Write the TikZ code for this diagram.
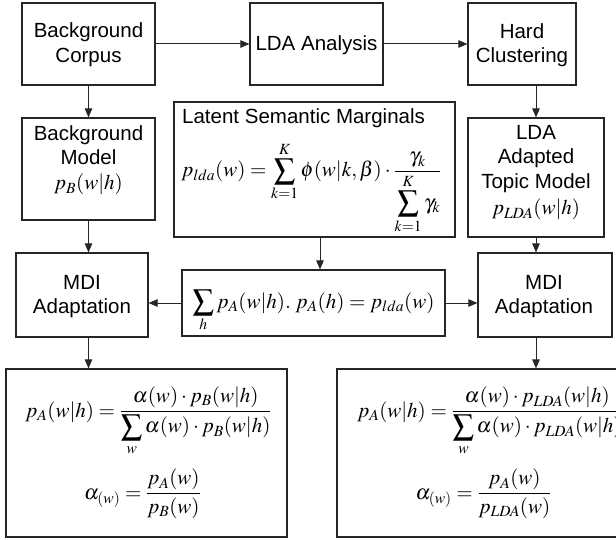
\documentclass[tikz,border=0pt]{standalone}
\usepackage{mathptmx}
\usepackage[no-math]{fontspec}
\setmainfont{Liberation Sans}
\usetikzlibrary{arrows.meta}
\tikzset{
  lbl/.style={font=\fontsize{20.5}{24.5}\selectfont, align=center, inner sep=0pt},
  mth/.style={font=\fontsize{21}{25}\selectfont, inner sep=0pt},
  boxn/.style={draw=black!85, line width=1.2pt, inner sep=0pt},
  arr/.style={-{Triangle[length=9pt,width=7.5pt]}, line width=1pt, draw=black!85}
}
\begin{document}
\begin{tikzpicture}[x=1pt,y=-1pt]
\useasboundingbox (0,0) rectangle (616,540);
\clip (0,0) rectangle (616,540);
% boxes
\node[boxn, minimum width=133pt, minimum height=82pt] (bc) at (88.5,44) {};
\node[boxn, minimum width=133pt, minimum height=82pt] (lda) at (316.5,44) {};
\node[boxn, minimum width=108pt, minimum height=82pt] (hc) at (522,44) {};
\node[boxn, minimum width=133pt, minimum height=102pt] (bm) at (88.5,169) {};
\node[boxn, minimum width=281pt, minimum height=135pt] (lsm) at (314.5,169.5) {};
\node[boxn, minimum width=136pt, minimum height=119pt] (ldam) at (536,177.5) {};
\node[boxn, minimum width=132pt, minimum height=84pt] (mdil) at (82,295) {};
\node[boxn, minimum width=263pt, minimum height=66pt] (ctr) at (313.5,303) {};
\node[boxn, minimum width=134pt, minimum height=84pt] (mdir) at (545,295) {};
\node[boxn, minimum width=281pt, minimum height=168pt] (bl) at (146.5,453) {};
\node[boxn, minimum width=290pt, minimum height=168pt] (br) at (482,453) {};
% texts
\node[lbl] (bct) at (88.5,44.5) {Background\\Corpus};
\node[lbl] (ldat) at (316.5,45) {LDA Analysis};
\node[lbl] (hct) at (522,45) {Hard\\Clustering};
\node[lbl] (bmt) at (88.5,145) {Background\\Model};
\node[mth, anchor=base] (bmf) at (88.5,190) {$p_B(w|h)$};
\node[lbl, anchor=west] (lsmt) at (182,118) {Latent Semantic Marginals};
\node[mth, anchor=base west] (lsmf) at (181,177) {$\displaystyle p_{lda}(w)=\sum_{k=1}^{K}\phi(w|k,\beta)\cdot\frac{\gamma_k}{\displaystyle\sum_{k=1}^{K}\gamma_k}$};
\node[lbl] (ldamt) at (536,159) {LDA\\Adapted\\Topic Model};
\node[mth, anchor=base] (ldamf) at (536,215) {$p_{LDA}(w|h)$};
\node[lbl] (mdilt) at (82,296.5) {MDI\\Adaptation};
\node[lbl] (mdirt) at (544,296.5) {MDI\\Adaptation};
\node[mth, anchor=base] (ctrf) at (313.5,308) {$\displaystyle\sum_{h} p_A(w|h).\; p_A(h)=p_{lda}(w)$};
\node[mth, anchor=base] (blf1) at (148.5,417) {$\displaystyle p_A(w|h)=\frac{\alpha(w)\cdot p_B(w|h)}{\displaystyle\sum_{w}\alpha(w)\cdot p_B(w|h)}$};
\node[mth, anchor=base] (blf2) at (142.5,499) {$\displaystyle \alpha_{(w)}=\frac{p_A(w)}{p_B(w)}$};
\node[mth, anchor=base west] (brf1) at (357,417) {$\displaystyle p_A(w|h)=\frac{\alpha(w)\cdot p_{LDA}(w|h)}{\displaystyle\sum_{w}\alpha(w)\cdot p_{LDA}(w|h)}$};
\node[mth, anchor=base] (brf2) at (483.5,499) {$\displaystyle \alpha_{(w)}=\frac{p_A(w)}{p_{LDA}(w)}$};
% connectors
\draw[arr] (bc.east) -- (lda.west);
\draw[arr] (lda.east) -- (hc.west);
\draw[arr] (bc.south) -- (bm.north);
\draw[arr] (hc.south -| ldam.north) -- (ldam.north);
\draw[arr] (bm.south) -- (bm.south |- mdil.north);
\draw[arr] (ldam.south) -- (ldam.south |- mdir.north);
\draw[arr] ([xshift=5.5pt]lsm.south) -- ([xshift=5.5pt]lsm.south |- ctr.north);
\draw[arr] (ctr.west) -- (ctr.west -| mdil.east);
\draw[arr] (ctr.east) -- (ctr.east -| mdir.west);
\draw[arr] (bm.south |- mdil.south) -- (bm.south |- bl.north);
\draw[arr] (ldam.south |- mdir.south) -- (ldam.south |- br.north);
\end{tikzpicture}
\end{document}
